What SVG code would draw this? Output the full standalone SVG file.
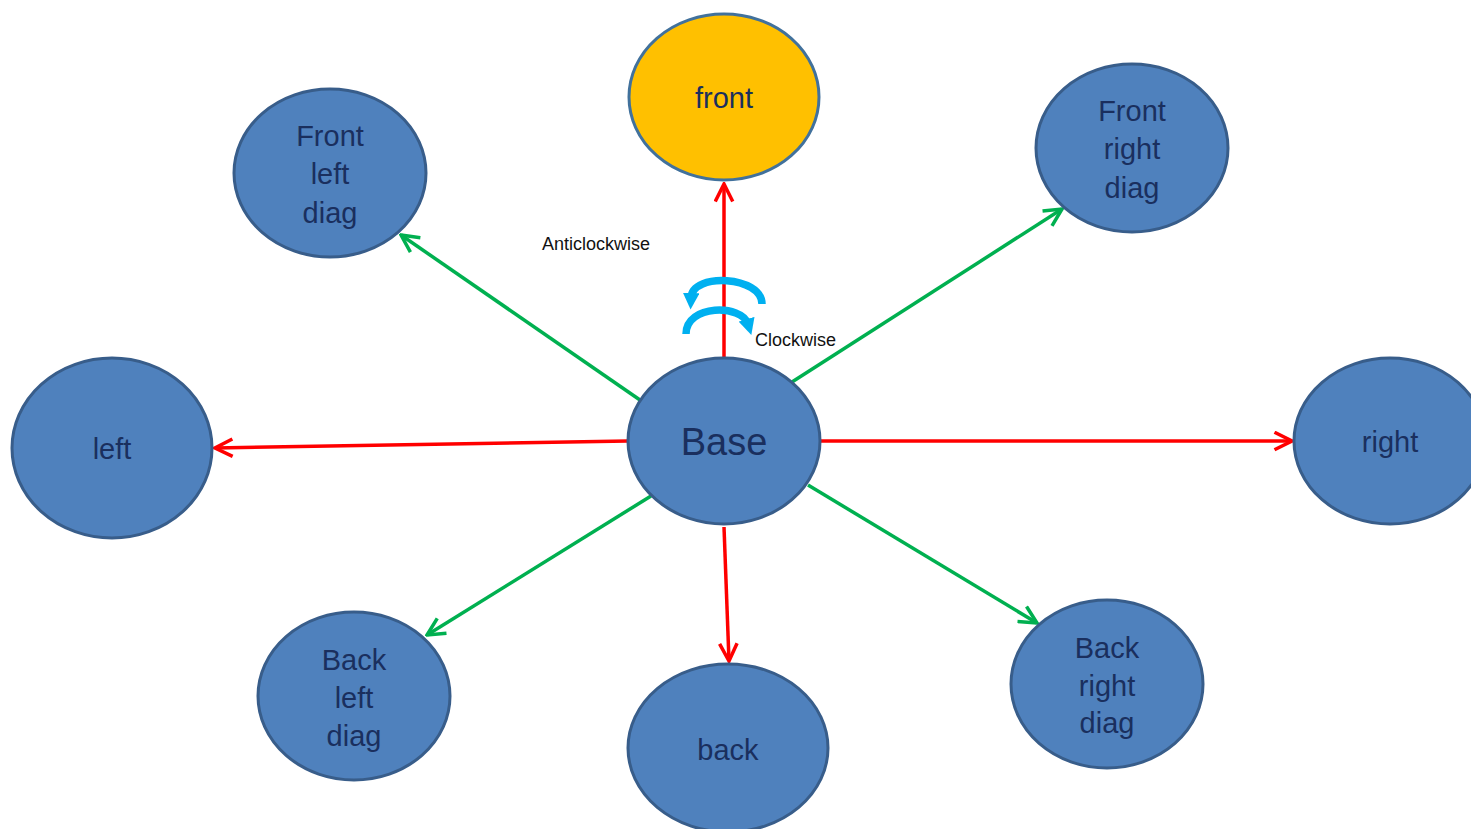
<svg xmlns="http://www.w3.org/2000/svg" width="1471" height="829" viewBox="0 0 1471 829">
<style>
.n{fill:#4F81BD;stroke:#385D8A;stroke-width:3}
.f{fill:#FFC000;stroke:#41719C;stroke-width:3}
.t{font-family:"Liberation Sans",Arial,sans-serif;font-size:29px;fill:#1A2F5E;text-anchor:middle}
.r{stroke:#FF0000;stroke-width:3.5;fill:none;marker-end:url(#ar)}
.g{stroke:#00B050;stroke-width:3.5;fill:none;marker-end:url(#ag)}
.c{stroke:#00B0F0;stroke-width:7.5;fill:none;marker-end:url(#ac)}
.l{font-family:"Liberation Sans",Arial,sans-serif;font-size:18px;fill:#111}
</style>
<defs>
<marker id="ar" viewBox="0 0 12 12" refX="11" refY="6" markerWidth="6" markerHeight="6" orient="auto" markerUnits="strokeWidth"><path d="M1,1 L11,6 L1,11" fill="none" stroke="#FF0000" stroke-width="2"/></marker>
<marker id="ag" viewBox="0 0 12 12" refX="11" refY="6" markerWidth="6" markerHeight="6" orient="auto" markerUnits="strokeWidth"><path d="M1,1 L11,6 L1,11" fill="none" stroke="#00B050" stroke-width="2"/></marker>
<marker id="ac" viewBox="0 0 10 10" refX="3" refY="5" markerWidth="2.2" markerHeight="2.2" orient="auto" markerUnits="strokeWidth"><path d="M0,0 L10,5 L0,10 Z" fill="#00B0F0"/></marker>
</defs>
<rect width="1471" height="829" fill="#FFFFFF"/>
<g id="connectors">
<line class="r" x1="724" y1="357" x2="724" y2="184"/>
<line class="r" x1="628" y1="441" x2="215" y2="448"/>
<line class="r" x1="820" y1="441" x2="1292" y2="441"/>
<line class="r" x1="724" y1="527" x2="729" y2="661"/>
<line class="g" x1="640" y1="400" x2="401" y2="235"/>
<line class="g" x1="792" y1="382" x2="1062" y2="209"/>
<line class="g" x1="651" y1="496" x2="427" y2="635"/>
<line class="g" x1="808" y1="485" x2="1037" y2="623"/>
<path class="c" d="M762,304 C762,276 692,272 691,298"/>
<path class="c" d="M686,334 C686,304 742,304 748,324"/>
<text class="l" x="542" y="250">Anticlockwise</text>
<text class="l" x="755" y="346">Clockwise</text>
</g>
<g id="front"><ellipse class="f" cx="724" cy="97" rx="95" ry="83"/><text class="t" x="724" y="108">front</text></g>
<g id="front-left-diag"><ellipse class="n" cx="330" cy="173" rx="96" ry="84"/><text class="t" x="330" y="146">Front</text><text class="t" x="330" y="184">left</text><text class="t" x="330" y="223">diag</text></g>
<g id="front-right-diag"><ellipse class="n" cx="1132" cy="148" rx="96" ry="84"/><text class="t" x="1132" y="121">Front</text><text class="t" x="1132" y="159">right</text><text class="t" x="1132" y="198">diag</text></g>
<g id="left"><ellipse class="n" cx="112" cy="448" rx="100" ry="90"/><text class="t" x="112" y="459">left</text></g>
<g id="base"><ellipse class="n" cx="724" cy="441" rx="96" ry="83"/><text class="t" x="724" y="455" style="font-size:38px">Base</text></g>
<g id="right"><ellipse class="n" cx="1390" cy="441" rx="96" ry="83"/><text class="t" x="1390" y="452">right</text></g>
<g id="back-left-diag"><ellipse class="n" cx="354" cy="696" rx="96" ry="84"/><text class="t" x="354" y="670">Back</text><text class="t" x="354" y="708">left</text><text class="t" x="354" y="746">diag</text></g>
<g id="back"><ellipse class="n" cx="728" cy="748" rx="100" ry="84"/><text class="t" x="728" y="760">back</text></g>
<g id="back-right-diag"><ellipse class="n" cx="1107" cy="684" rx="96" ry="84"/><text class="t" x="1107" y="658">Back</text><text class="t" x="1107" y="696">right</text><text class="t" x="1107" y="733">diag</text></g>
</svg>
